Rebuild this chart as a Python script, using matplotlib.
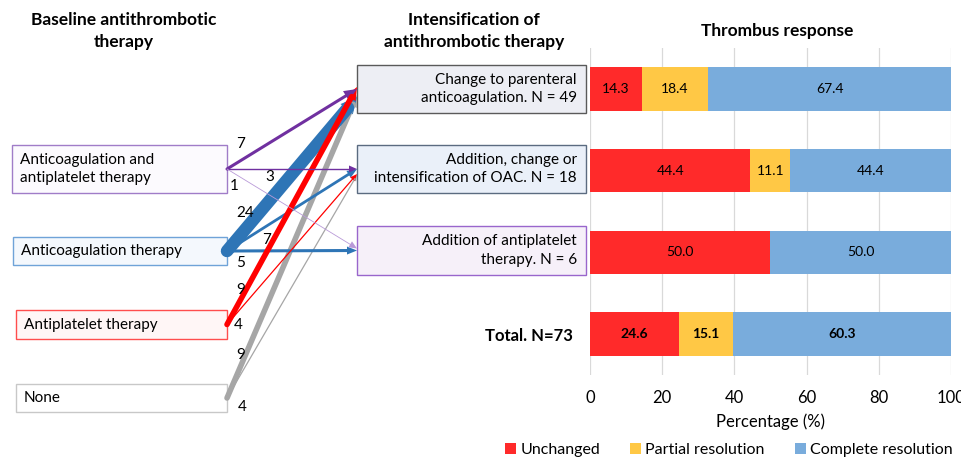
import numpy as np
import matplotlib
matplotlib.use("Agg")
import matplotlib.pyplot as plt
from matplotlib.patches import Rectangle, Polygon

plt.rcParams["font.family"] = ["Lato", "DejaVu Sans"]

# --- data ---
baseline_labels = ["Anticoagulation and\nantiplatelet therapy", "Anticoagulation therapy",
                   "Antiplatelet therapy", "None"]
intens_labels = ["Change to parenteral\nanticoagulation. N = 49",
                 "Addition, change or\nintensification of OAC. N = 18",
                 "Addition of antiplatelet\ntherapy. N = 6"]
flow_src = [0, 0, 0, 1, 1, 1, 2, 2, 3, 3]
flow_dst = [0, 1, 2, 0, 1, 2, 0, 1, 0, 1]
flow_n = [7, 3, 1, 24, 7, 5, 9, 4, 9, 4]

response_rows = ["", "", "", "Total. N=73"]
unchanged = [14.3, 44.4, 50.0, 24.6]
partial = [18.4, 11.1, 0.0, 15.1]
complete = [67.4, 44.4, 50.0, 60.3]

# --- layout / style (pixels) ---
W, H = 962, 458
left_boxes = [(12, 145, 215, 48), (13, 237, 214, 28), (16, 310, 211, 29), (16, 384, 211, 28)]
left_edge = ["#A07CC8", "#6FA3D8", "#FF4D4D", "#C8C8C8"]
left_face = ["#FCFAFE", "#F4F8FD", "#FFF6F6", "#FFFFFF"]
mid_boxes = [(357, 65, 229, 48), (357, 145, 229, 48), (357, 226, 229, 49)]
mid_edge = ["#5A5A5A", "#5B6B80", "#9966CC"]
mid_face = ["#EDEEF4", "#EAF0F9", "#F6F0F9"]
flow_color = ["#7030A0", "#7030A0", "#B99AD8", "#2E75B6", "#2E75B6", "#2E75B6",
              "#FF0000", "#FF0000", "#A6A6A6", "#A6A6A6"]
flow_lw = [2.2, 1.0, 0.6, 9.0, 2.0, 2.2, 4.0, 0.9, 4.0, 0.9]
flow_head = [(13, 11), (8, 7), (8, 7), (16, 16), (10, 8), (10, 8), (13, 11), (7, 6), (12, 10), (6, 5)]
flow_dy = [0, 0, -2, 8, 0, 0, -2, 5, 6, 6]
label_xy = [(236, 144), (265, 177), (230, 186), (236, 213), (262, 240), (236, 263),
            (236, 290), (234, 325), (236, 355), (238, 407)]

fig = plt.figure(figsize=(W / 100, H / 100), dpi=100)
ax = fig.add_axes([0, 0, 1, 1])
ax.set_xlim(0, W)
ax.set_ylim(H, 0)
ax.axis("off")

ax.text(124, 31, "Baseline antithrombotic\ntherapy", ha="center", va="center",
        fontsize=12.5, fontweight="bold", linespacing=1.4)
ax.text(474, 31, "Intensification of\nantithrombotic therapy", ha="center", va="center",
        fontsize=12.5, fontweight="bold", linespacing=1.4)
ax.text(777, 31, "Thrombus response", ha="center", va="center", fontsize=12.5, fontweight="bold")

for (x, y, w, h), lab, ec, fc in zip(left_boxes, baseline_labels, left_edge, left_face):
    ax.add_patch(Rectangle((x, y), w, h, facecolor=fc, edgecolor=ec, lw=1.0))
    ax.text(x + 8, y + h / 2, lab, ha="left", va="center", fontsize=11, linespacing=1.45)

for (x, y, w, h), lab, ec, fc in zip(mid_boxes, intens_labels, mid_edge, mid_face):
    ax.add_patch(Rectangle((x, y), w, h, facecolor=fc, edgecolor=ec, lw=1.0))
    ax.text(x + w - 9, y + h / 2, lab, ha="right", va="center", fontsize=11, linespacing=1.45)

# flows
order = [8, 9, 3, 4, 5, 6, 7, 0, 1, 2]
for i in order:
    sx, sy, sw, sh = left_boxes[flow_src[i]]
    dx, dy, dw, dh = mid_boxes[flow_dst[i]]
    x0, y0 = sx + sw, sy + sh / 2
    x1, y1 = dx, dy + dh / 2 + flow_dy[i]
    v = np.array([x1 - x0, y1 - y0])
    u = v / np.hypot(*v)
    n = np.array([-u[1], u[0]])
    hl, hw = flow_head[i]
    base = np.array([x1, y1]) - u * hl
    ax.plot([x0, base[0] + u[0] * 2], [y0, base[1] + u[1] * 2], color=flow_color[i],
            lw=flow_lw[i], solid_capstyle="round")
    tri = [(x1, y1), tuple(base + n * hw / 2), tuple(base - n * hw / 2)]
    ax.add_patch(Polygon(tri, closed=True, color=flow_color[i], lw=0))

for i, (lx, ly) in enumerate(label_xy):
    ax.text(lx, ly, str(flow_n[i]), ha="left", va="center", fontsize=11)

# --- bar chart ---
bx = fig.add_axes([590 / W, 1 - 375 / H, 361 / W, 327 / H])
y = np.arange(len(unchanged))
c_red, c_yel, c_blue = "#FF2A2A", "#FFC845", "#79ACDC"
bx.barh(y, unchanged, height=0.53, color=c_red, label="Unchanged", zorder=2)
bx.barh(y, partial, left=unchanged, height=0.53, color=c_yel, label="Partial resolution", zorder=2)
left2 = np.array(unchanged) + np.array(partial)
bx.barh(y, complete, left=left2, height=0.53, color=c_blue, label="Complete resolution", zorder=2)

for i in range(len(y)):
    weight = "bold" if i == len(y) - 1 else "normal"
    starts = [0, unchanged[i], left2[i]]
    for s, val in zip(starts, [unchanged[i], partial[i], complete[i]]):
        if val > 0:
            bx.text(s + val / 2, i, f"{val:.1f}", ha="center", va="center",
                    fontsize=10, fontweight=weight, zorder=3)

bx.set_xlim(0, 100)
bx.set_ylim(3.5, -0.5)
bx.set_xticks(range(0, 101, 20))
bx.set_yticks(y)
bx.set_yticklabels(response_rows, fontsize=10.5, fontweight="bold")
bx.tick_params(length=0, labelsize=12, pad=12)
bx.tick_params(axis="x", pad=11)
bx.grid(axis="x", color="#D9D9D9", lw=0.9, zorder=0)
for sp in bx.spines.values():
    sp.set_visible(False)
bx.set_xlabel("Percentage (%)", fontsize=12, labelpad=5)

fig.legend(loc="center", bbox_to_anchor=(729 / W, 1 - 450 / H), ncol=3, frameon=False,
           fontsize=11.5, handlelength=0.7, handleheight=0.7, handletextpad=0.25,
           columnspacing=1.9, borderaxespad=0, borderpad=0)

fig.savefig("out.png", dpi=100)
